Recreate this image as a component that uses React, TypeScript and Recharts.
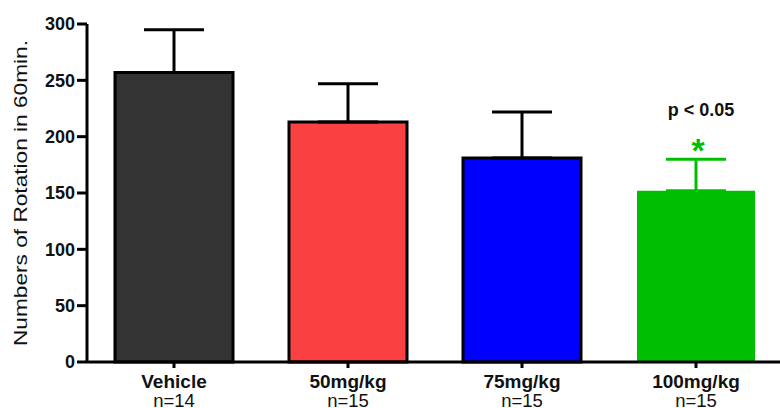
import { Bar, BarChart, Cell, ErrorBar, ReferenceDot, XAxis, YAxis } from "recharts";

const groups = ["Vehicle", "50mg/kg", "75mg/kg", "100mg/kg"];
const groupSizes = ["n=14", "n=15", "n=15", "n=15"];
const rotations = [257, 213, 181, 152];
const sems = [38, 34, 41, 28];
const significant = [false, false, false, true];
const yTicks = [0, 50, 100, 150, 200, 250, 300];
const yLabel = "Numbers of Rotation in 60min.";
const pLabel = "p < 0.05";

const barColors = ["#333333", "#fa4040", "#0000ff", "#00bf00"];
const sigColor = "#00bf00";
const font = "'Liberation Sans', Arial, sans-serif";

const rows = groups.map((group, i) => ({
  group,
  plain: significant[i] ? null : rotations[i],
  sig: significant[i] ? rotations[i] : null,
  plainErr: significant[i] ? null : [0, sems[i]],
  sigErr: significant[i] ? [0, sems[i]] : null,
}));

const sigIndex = significant.indexOf(true);

function GroupTick(props: any) {
  const { x, y, payload } = props;
  return (
    <g fontFamily={font} fill="#111">
      <text x={x} y={y} dy={17.5} textAnchor="middle" fontWeight="bold" fontSize={19}>
        {payload.value}
      </text>
      <text x={x} y={y} dy={36.5} textAnchor="middle" fontSize={18.5}>
        {groupSizes[payload.index]}
      </text>
    </g>
  );
}

function AxisTitle(props: any) {
  const { viewBox } = props;
  const x = viewBox.x + 27;
  const y = viewBox.y + viewBox.height / 2;
  return (
    <text
      x={x}
      y={y}
      transform={`rotate(-90, ${x}, ${y})`}
      textAnchor="middle"
      fontFamily={font}
      fontSize={18.5}
      fill="#111"
      textLength={306}
      lengthAdjust="spacingAndGlyphs"
    >
      {yLabel}
    </text>
  );
}

function SigMark(props: any) {
  const { cx, cy } = props;
  return (
    <g fontFamily={font} fontWeight="bold" textAnchor="middle">
      <text x={cx + 2} y={cy + 3} fontSize={34} fill={sigColor}>
        *
      </text>
      <text x={cx + 5} y={cy - 43} fontSize={18} fill="#111">
        {pLabel}
      </text>
    </g>
  );
}

export default function App() {
  return (
    <div style={{ position: "absolute", left: 0, top: 0, width: 780, height: 408, overflow: "hidden", background: "#fff" }}>
      <BarChart
        width={784}
        height={408}
        data={rows}
        margin={{ top: 24, right: 1, bottom: 6, left: 0 }}
        barSize={118}
      >
        <XAxis
          dataKey="group"
          height={40}
          axisLine={{ stroke: "#000", strokeWidth: 3 }}
          tickLine={{ stroke: "#000", strokeWidth: 3 }}
          tickSize={6}
          tickMargin={2}
          tick={<GroupTick />}
          interval={0}
        />
        <YAxis
          width={87}
          domain={[0, 300]}
          ticks={yTicks}
          interval={0}
          axisLine={{ stroke: "#000", strokeWidth: 3 }}
          tickLine={{ stroke: "#000", strokeWidth: 3 }}
          tickSize={10}
          tickMargin={2}
          tick={{ fill: "#111", fontSize: 18, fontWeight: "bold", fontFamily: font }}
          label={{ content: <AxisTitle /> }}
        />
        <Bar dataKey="plain" stackId="s" stroke="#000" strokeWidth={3} isAnimationActive={false}>
          {rows.map((r, i) => (
            <Cell key={r.group} fill={barColors[i]} />
          ))}
          <ErrorBar dataKey="plainErr" direction="y" width={30} stroke="#000" strokeWidth={3} />
        </Bar>
        <Bar dataKey="sig" stackId="s" fill={sigColor} isAnimationActive={false}>
          <ErrorBar dataKey="sigErr" direction="y" width={30} stroke={sigColor} strokeWidth={3} />
        </Bar>
        <ReferenceDot
          x={groups[sigIndex]}
          y={rotations[sigIndex] + sems[sigIndex]}
          shape={<SigMark />}
        />
      </BarChart>
    </div>
  );
}
